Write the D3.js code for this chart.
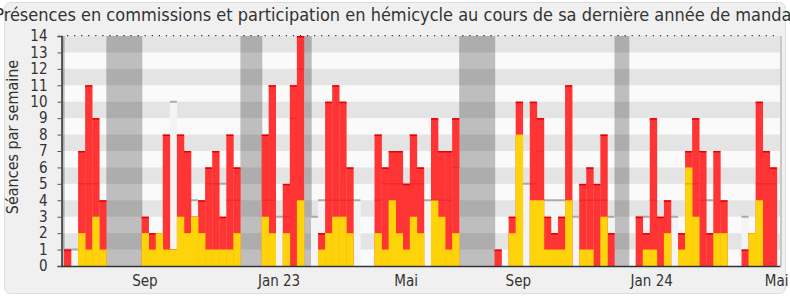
<!DOCTYPE html>
<html>
<head>
<meta charset="utf-8">
<script src="https://cdn.jsdelivr.net/npm/d3@7/dist/d3.min.js"></script>
<style>
  body { margin: 0; background: #fff; }
  svg text { font-family: "DejaVu Sans Condensed", "DejaVu Sans", sans-serif; font-stretch: condensed; }
</style>
</head>
<body>
<svg id="chart" width="790" height="300"></svg>
<script>
// semaines 0..100, de juin 2022 à mai 2024
var presences = [1,0,7,11,9,4,0,0,0,0,0,3,2,2,8,1,8,7,3,4,6,7,3,8,6,0,0,0,8,11,0,5,11,14,0,0,2,10,11,10,6,0,0,0,8,6,7,7,5,8,6,0,9,7,7,9,0,0,0,0,0,1,0,3,10,0,10,9,3,2,3,11,0,5,6,5,8,2,0,0,0,3,2,9,3,4,0,2,7,9,7,2,7,4,0,0,1,2,10,7,6];
var hemicycle = [0,0,2,1,3,1,0,0,0,0,0,2,1,2,1,1,3,2,3,2,1,1,1,1,2,0,0,0,3,2,0,2,0,4,0,0,1,2,3,3,2,0,0,0,2,1,4,2,1,3,2,0,4,3,1,2,0,0,0,0,0,0,0,2,8,0,4,4,1,1,1,4,0,1,1,0,3,0,0,0,0,0,1,1,0,2,0,1,6,3,0,0,2,2,0,0,0,2,4,0,0];
var mediane = [1,1,5,5,5,null,null,null,null,null,null,null,null,null,null,10,null,null,4,null,5,5,5,4,4,null,null,null,4,4,3,3,9,12,null,3,4,4,4,4,4,4,null,null,4,5,5,5,5,5,5,4,4,4,4,6,null,null,null,null,null,null,null,null,null,5,5,7,4,4,4,null,3,4,4,4,4,3,null,null,null,3,3,4,null,null,3,null,5,5,4,4,null,null,null,null,3,null,5,5,5];
var vacances = [-1,6,7,8,9,10,25,26,27,34,56,57,58,59,60,78,79];
var xTickWeeks = [11.4, 30.4, 48.4, 64.3, 83.2, 100.9];
var xTickLabels = ['Sep', 'Jan 23', 'Mai', 'Sep', 'Jan 24', 'Mai'];
var yTicks = d3.range(0, 15);

var svg = d3.select('#chart');
var pLeft = 61.5, pRight = 780, pTop = 36, pBottom = 266;

var x = d3.scaleLinear().domain([-0.35, 101.45]).range([pLeft, pRight]);
var y = d3.scaleLinear().domain([0, 14]).range([pBottom, pTop]);
var bw = x(1) - x(0);
var weeks = d3.range(presences.length);

// cadre
svg.append('rect')
  .attr('x', 4.5).attr('y', 2.5).attr('width', 781).attr('height', 291)
  .attr('rx', 6).attr('fill', '#f0f0f0').attr('stroke', '#dddddd');

svg.append('clipPath').attr('id', 'plot')
  .append('rect').attr('x', pLeft).attr('y', pTop).attr('width', pRight - pLeft).attr('height', pBottom - pTop);

var g = svg.append('g').attr('clip-path', 'url(#plot)');

g.append('rect')
  .attr('x', pLeft).attr('y', pTop).attr('width', pRight - pLeft).attr('height', pBottom - pTop)
  .attr('fill', '#fafafa');

// vacances parlementaires
g.selectAll('rect.vac').data(vacances).enter().append('rect')
  .attr('class', 'vac')
  .attr('x', function(d) { return x(d); })
  .attr('y', pTop)
  .attr('width', bw + 0.7)
  .attr('height', pBottom - pTop)
  .attr('fill', '#bebebe');

// bandes horizontales
g.selectAll('rect.band').data(yTicks.filter(function(d) { return d % 2 == 1; })).enter().append('rect')
  .attr('class', 'band')
  .attr('x', pLeft)
  .attr('y', function(d) { return y(d + 1); })
  .attr('width', pRight - pLeft)
  .attr('height', function(d) { return y(d) - y(d + 1); })
  .attr('fill', '#000').attr('fill-opacity', 0.085);

// médiane (aire claire)
var medWeeks = weeks.filter(function(i) { return mediane[i] != null; });
g.selectAll('rect.med').data(medWeeks).enter().append('rect')
  .attr('class', 'med')
  .attr('x', function(i) { return x(i); })
  .attr('y', function(i) { return y(mediane[i]); })
  .attr('width', bw + 0.3)
  .attr('height', function(i) { return pBottom - y(mediane[i]); })
  .attr('fill', '#f4f4f4');

g.selectAll('line.medl').data(medWeeks).enter().append('line')
  .attr('class', 'medl')
  .attr('x1', function(i) { return x(i); })
  .attr('x2', function(i) { return x(i + 1); })
  .attr('y1', function(i) { return y(mediane[i]); })
  .attr('y2', function(i) { return y(mediane[i]); })
  .attr('stroke', '#aaaaaa').attr('stroke-width', 2);

// présences
var pw = weeks.filter(function(i) { return presences[i] > 0; });
g.selectAll('rect.pres').data(pw).enter().append('rect')
  .attr('class', 'pres')
  .attr('x', function(i) { return x(i); })
  .attr('y', function(i) { return y(presences[i]); })
  .attr('width', bw + 0.3)
  .attr('height', function(i) { return pBottom - y(presences[i]); })
  .attr('fill', '#ff3535');

g.selectAll('rect.prestop').data(pw).enter().append('rect')
  .attr('class', 'prestop')
  .attr('x', function(i) { return x(i); })
  .attr('y', function(i) { return y(presences[i]); })
  .attr('width', bw)
  .attr('height', 1.5)
  .attr('fill', '#e60000');

// participation hémicycle
var hw = weeks.filter(function(i) { return hemicycle[i] > 0; });
g.selectAll('rect.hem').data(hw).enter().append('rect')
  .attr('class', 'hem')
  .attr('x', function(i) { return x(i); })
  .attr('y', function(i) { return y(hemicycle[i]); })
  .attr('width', bw + 0.3)
  .attr('height', function(i) { return pBottom - y(hemicycle[i]); })
  .attr('fill', '#ffd30a');

// médiane par dessus (trait discret)
g.selectAll('line.medt').data(medWeeks.filter(function(i) { return presences[i] > mediane[i]; })).enter().append('line')
  .attr('class', 'medt')
  .attr('x1', function(i) { return x(i); })
  .attr('x2', function(i) { return x(i + 1); })
  .attr('y1', function(i) { return y(mediane[i]); })
  .attr('y2', function(i) { return y(mediane[i]); })
  .attr('stroke', '#a00000').attr('stroke-opacity', 0.18).attr('stroke-width', 1.5);

// pointillés du haut
svg.selectAll('rect.dot').data(weeks).enter().append('rect')
  .attr('class', 'dot')
  .attr('x', function(i) { return x(i + 0.5) - 0.5; })
  .attr('y', pTop - 1)
  .attr('width', 1.2).attr('height', 1.2)
  .attr('fill', '#222');

// bord droit
svg.append('line')
  .attr('x1', pRight + 1).attr('x2', pRight + 1).attr('y1', pTop).attr('y2', pBottom)
  .attr('stroke', '#c8c8c8').attr('stroke-width', 2);

// axes
var yAxis = svg.append('g')
  .attr('transform', 'translate(' + pLeft + ',0)')
  .call(d3.axisLeft(y).tickValues(yTicks).tickSize(4).tickPadding(10));
yAxis.select('.domain').attr('stroke', '#333').attr('stroke-width', 1.5);
yAxis.selectAll('.tick line').attr('stroke', '#555');
yAxis.selectAll('.tick text').attr('font-size', 15).attr('fill', '#333')
  .style('font-family', '"DejaVu Sans Condensed", "DejaVu Sans", sans-serif');

var xAxis = svg.append('g')
  .attr('transform', 'translate(0,' + pBottom + ')')
  .call(d3.axisBottom(x).tickValues(xTickWeeks).tickFormat(function(d, i) { return xTickLabels[i]; }).tickSize(0).tickPadding(9));
xAxis.select('.domain').attr('stroke', '#333').attr('stroke-width', 1.5);
xAxis.selectAll('.tick text').attr('font-size', 15).attr('fill', '#333')
  .style('font-family', '"DejaVu Sans Condensed", "DejaVu Sans", sans-serif');

// titres
svg.append('text')
  .attr('x', 396).attr('y', 21)
  .attr('text-anchor', 'middle')
  .attr('font-size', 18).attr('fill', '#333')
  .text('Présences en commissions et participation en hémicycle au cours de sa dernière année de mandat');

svg.append('text')
  .attr('transform', 'translate(18,' + ((pTop + pBottom) / 2 - 14) + ') rotate(-90)')
  .attr('text-anchor', 'middle')
  .attr('font-size', 16).attr('fill', '#333')
  .text('Séances par semaine');
</script>
</body>
</html>
